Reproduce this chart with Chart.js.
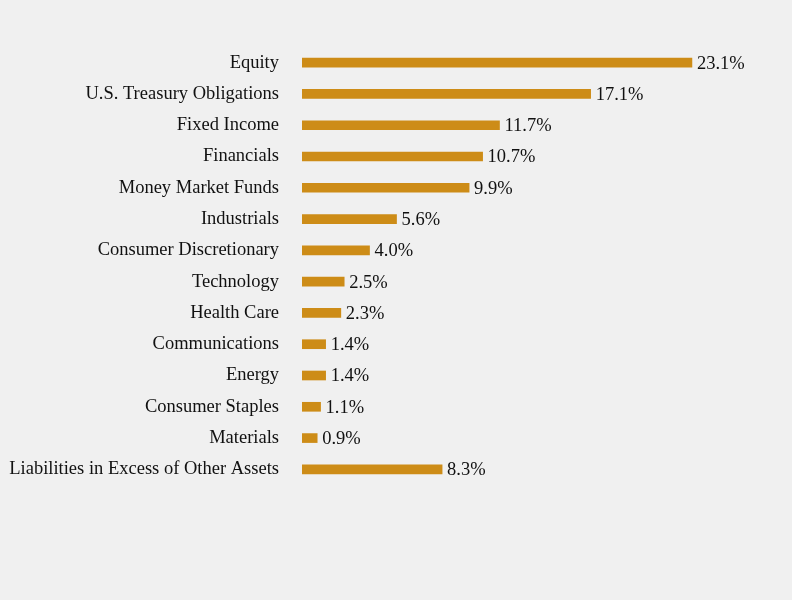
<!DOCTYPE html>
<html>
<head>
<meta charset="utf-8">
<script src="https://cdn.jsdelivr.net/npm/chart.js@4"></script>
<style>
  html, body { margin: 0; padding: 0; background: #f0f0f0; }
  #wrap { width: 792px; height: 600px; }
</style>
</head>
<body>
<div id="wrap"><canvas id="allocChart" width="792" height="600"></canvas></div>
<script>
const categories = [
    'Equity',
    'U.S. Treasury Obligations',
    'Fixed Income',
    'Financials',
    'Money Market Funds',
    'Industrials',
    'Consumer Discretionary',
    'Technology',
    'Health Care',
    'Communications',
    'Energy',
    'Consumer Staples',
    'Materials',
    'Liabilities in Excess of Other Assets'
];
const percents = [23.1, 17.1, 11.7, 10.7, 9.9, 5.6, 4.0, 2.5, 2.3, 1.4, 1.4, 1.1, 0.9, 8.3];

const labelFont = '18.5px "Liberation Serif", "Times New Roman", serif';

// writes the value just right of each bar
const valueLabels = {
    id: 'valueLabels',
    afterDatasetsDraw(chart) {
        const ctx = chart.ctx;
        const meta = chart.getDatasetMeta(0);
        ctx.save();
        ctx.font = labelFont;
        ctx.fillStyle = '#111111';
        ctx.textAlign = 'left';
        ctx.textBaseline = 'middle';
        meta.data.forEach(function (bar, i) {
            ctx.fillText(percents[i].toFixed(1) + '%', bar.x + 5, bar.y + 1);
        });
        ctx.restore();
    }
};

new Chart(document.getElementById('allocChart'), {
    type: 'bar',
    data: {
        labels: categories,
        datasets: [{
            data: percents,
            backgroundColor: '#cd8c17',
            borderWidth: 0,
            barThickness: 9
        }]
    },
    options: {
        indexAxis: 'y',
        responsive: false,
        animation: false,
        layout: {
            padding: { top: 47, bottom: 115, left: 0, right: 68 }
        },
        plugins: {
            legend: { display: false },
            tooltip: { enabled: false }
        },
        scales: {
            x: {
                display: false,
                min: 0,
                max: 25
            },
            y: {
                grid: { display: false, drawTicks: false },
                border: { display: false },
                ticks: {
                    padding: 23,
                    color: '#111111',
                    font: { family: '"Liberation Serif", "Times New Roman", serif', size: 18.5 }
                },
                afterFit: function (axis) {
                    axis.width = 302;
                }
            }
        }
    },
    plugins: [valueLabels]
});
</script>
</body>
</html>
